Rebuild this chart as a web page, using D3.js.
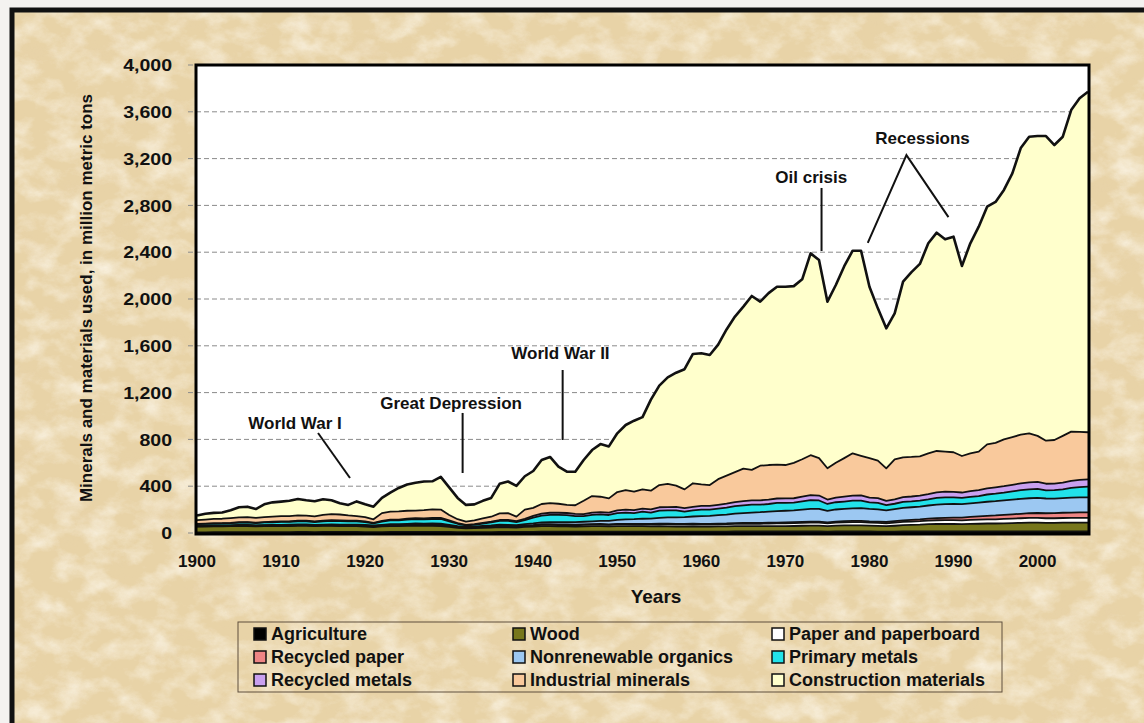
<!DOCTYPE html>
<html><head><meta charset="utf-8">
<script src="https://cdn.jsdelivr.net/npm/d3@7/dist/d3.min.js"></script>
<style>
body{margin:0;background:#fff;}
svg{display:block;font-family:"Liberation Sans",Arial,sans-serif;}
</style>
</head><body>
<svg id="c" width="1144" height="723"></svg>
<script>
// ---------------- DATA ----------------
const firstYear = 1900, lastYear = 2006;
const years = d3.range(firstYear, lastYear + 1);

const agriculture = [
 6,6,7,7,7,8,8,7,8,8, 8,8,9,9,8,9,9,9,9,9, 8,7,8,9,9,9,10,10,10,10,
 9,8,7,7,8,8,9,9,9,10, 10,11,11,11,11,11,11,11,12,11, 12,12,12,12,12,12,12,12,12,12,
 12,12,12,12,13,13,13,13,13,13, 13,13,13,13,13,12,13,13,13,13, 13,12,12,12,13,13,13,13,13,13,
 13,13,13,13,13,13,13,13,13,13, 13,13,13,13,13,13,13];
const wood = [
 48,49,50,50,51,52,52,50,51,52, 52,52,53,53,51,52,52,50,49,50, 47,44,48,50,51,52,52,51,51,50,
 44,36,32,34,37,39,42,40,38,42, 44,48,48,46,45,44,46,47,47,45, 47,47,46,46,45,46,45,43,43,44,
 43,43,44,45,46,46,46,45,46,46, 46,47,49,50,50,47,50,52,53,53, 50,49,46,50,54,56,58,62,64,64,
 64,62,65,66,68,68,70,72,74,76, 76,74,74,75,76,76,76];
const paper = [
 3,3,3,3,4,4,4,4,4,4, 4,5,5,5,5,5,5,6,6,6, 6,5,6,7,7,7,8,8,8,8,
 7,6,6,6,7,7,8,8,8,9, 10,11,11,11,11,11,12,13,13,13, 14,14,14,15,15,16,16,16,16,17,
 17,17,18,18,19,20,21,21,22,23, 23,24,25,26,26,23,25,26,27,27, 26,26,25,27,28,29,30,31,32,33,
 33,33,34,35,36,36,37,38,39,40, 40,39,39,40,40,40,40];
const recycledPaper = [
 1,1,1,1,1,1,1,1,1,1, 1,1,1,1,1,1,1,1,1,1, 2,2,2,2,2,2,3,3,3,3,
 2,2,2,2,2,3,3,3,3,3, 4,5,5,6,6,6,5,5,5,5, 5,5,5,5,5,6,6,6,6,6,
 6,6,6,6,7,7,7,7,7,7, 8,8,8,9,9,8,9,10,10,11, 11,11,11,12,13,14,15,17,18,20,
 22,24,26,28,30,33,35,37,38,40, 42,43,44,45,46,47,48];
const organics = [
 3,3,3,3,3,4,4,4,4,4, 5,5,5,5,5,5,6,6,6,6, 6,6,6,7,7,8,8,8,9,9,
 8,7,6,6,7,8,9,9,10,12, 14,16,18,19,20,21,22,24,26,30, 34,38,41,44,46,50,54,57,58,62,
 66,68,72,76,80,84,88,92,95,98, 100,102,105,108,108,100,104,106,108,108, 106,104,100,103,106,108,110,112,115,117,
 116,114,116,118,120,122,124,126,128,128, 130,126,124,125,127,128,128];
const primaryMetals = [
 15,16,17,17,18,20,21,19,22,23, 25,25,27,27,24,28,30,30,29,28, 24,18,27,33,32,36,38,37,38,40,
 30,20,12,15,20,25,32,35,25,34, 50,58,62,62,60,52,48,55,56,50, 57,58,52,60,52,62,60,60,48,52,
 55,54,56,60,64,66,68,64,65,70, 68,65,70,75,72,58,62,62,65,65, 56,56,44,46,52,50,50,52,58,58,
 56,54,55,56,62,64,66,70,74,76, 76,70,72,74,84,88,92];
const recycledMetals = [
 2,2,2,3,3,3,3,3,3,4, 4,4,5,5,5,6,6,6,6,6, 6,5,6,7,7,8,8,8,9,9,
 8,6,5,5,6,7,8,9,8,10, 14,16,18,18,18,18,18,20,20,20, 25,26,26,27,27,28,29,30,30,31,
 32,32,33,34,35,36,36,37,38,38, 38,38,40,42,42,38,40,42,44,44, 40,40,36,38,40,42,44,46,48,48,
 48,46,48,50,52,54,55,56,58,60, 60,56,56,58,60,62,62];
const industrialMinerals = [
 32,35,37,38,41,41,42,42,43,44, 45,45,45,43,43,49,53,50,44,39, 36,30,67,67,70,68,65,71,74,71,
 46,33,27,33,38,42,57,57,39,80, 69,83,82,77,69,74,113,141,131,122, 156,167,157,164,160,190,197,181,160,201,
 184,178,219,239,256,278,261,296,295,290, 285,303,320,342,320,267,297,329,361,339, 338,320,279,342,341,338,335,347,353,342,
 338,312,323,329,377,380,400,408,416,419, 393,368,373,400,420,411,402];
const construction = [
 40,50,52,53,67,87,90,75,109,122, 124,130,140,132,130,133,118,97,90,125, 110,108,130,163,200,225,238,244,240,280,
 236,182,143,137,150,161,252,270,262,285, 315,376,395,317,284,287,349,393,450,444, 502,556,607,617,778,850,911,965,1027,1105,
 1121,1111,1150,1250,1330,1385,1486,1402,1469,1520, 1524,1510,1538,1725,1693,1424,1520,1640,1732,1753, 1465,1302,1196,1247,1501,1580,1645,1796,1866,1815,
 1843,1624,1796,1923,2031,2060,2132,2254,2450,2535, 2563,2604,2521,2557,2749,2850,2911];

const seriesNames = ["Agriculture","Wood","Paper and paperboard","Recycled paper",
  "Nonrenewable organics","Primary metals","Recycled metals","Industrial minerals","Construction materials"];
const seriesValues = [agriculture, wood, paper, recycledPaper, organics, primaryMetals,
  recycledMetals, industrialMinerals, construction];
const seriesColors = ["#000000","#77771c","#ffffff","#ee8585","#9cc8f2","#22e2ea","#c9a0f0","#f9c99c","#ffffcc"];

const yTicks = [0,400,800,1200,1600,2000,2400,2800,3200,3600,4000];
const xTicks = [1900,1910,1920,1930,1940,1950,1960,1970,1980,1990,2000];

const annotations = [
  {text:"World War I", x:1906.1, y:940, lines:[[[1914.4,855],[1918.2,470]]]},
  {text:"Great Depression", x:1921.8, y:1111, lines:[[[1931.6,1026],[1931.6,513]]]},
  {text:"World War II", x:1937.4, y:1538, lines:[[[1943.5,1393],[1943.5,795]]]},
  {text:"Oil crisis", x:1968.8, y:3040, lines:[[[1974.3,2949],[1974.3,2410]]]},
  {text:"Recessions", x:1980.7, y:3376, lines:[[[1979.8,2480],[1984.4,3230],[1989.4,2700]]]}
];

// ---------------- LAYOUT ----------------
const svg = d3.select("#c");
const W = 1144, H = 723;
const plot = {l:196, r:1089, t:65, b:534};

const x = d3.scaleLinear().domain([firstYear, lastYear]).range([plot.l + 1, plot.r - 1]);
const y = d3.scaleLinear().domain([0, 4000]).range([533, 65]);

// background with parchment texture
const defs = svg.append("defs");
const f = defs.append("filter").attr("id","paper").attr("x",0).attr("y",0).attr("width","100%").attr("height","100%");
f.append("feTurbulence").attr("type","fractalNoise").attr("baseFrequency","0.035 0.05").attr("numOctaves",5).attr("seed",7).attr("result","n");
f.append("feColorMatrix").attr("in","n").attr("type","matrix")
  .attr("values","0 0 0 0 1  0 0 0 0 0.97  0 0 0 0 0.9  1.8 0 0 0 -0.72");
const f2 = defs.append("filter").attr("id","paper2").attr("x",0).attr("y",0).attr("width","100%").attr("height","100%");
f2.append("feTurbulence").attr("type","fractalNoise").attr("baseFrequency","0.02 0.03").attr("numOctaves",4).attr("seed",2).attr("result","n");
f2.append("feColorMatrix").attr("in","n").attr("type","matrix")
  .attr("values","0 0 0 0 0.8  0 0 0 0 0.64  0 0 0 0 0.42  1.6 0 0 0 -0.8");

svg.append("rect").attr("x",0).attr("y",0).attr("width",W).attr("height",H).attr("fill","#f4f2f0");
svg.append("rect").attr("x",12).attr("y",10).attr("width",W).attr("height",H).attr("fill","#e8d3a7");
svg.append("rect").attr("x",12).attr("y",10).attr("width",W).attr("height",H).attr("filter","url(#paper)").attr("opacity",0.75);
svg.append("rect").attr("x",12).attr("y",10).attr("width",W).attr("height",H).attr("filter","url(#paper2)").attr("opacity",0.3);
svg.append("rect").attr("x",12).attr("y",10).attr("width",W+20).attr("height",H+20)
  .attr("fill","none").attr("stroke","#111").attr("stroke-width",5);

// plot background
svg.append("rect").attr("x",plot.l).attr("y",plot.t).attr("width",plot.r-plot.l).attr("height",plot.b-plot.t).attr("fill","#fff");

// gridlines (dashed, extend a little left as tick marks)
svg.append("g").selectAll("line").data(yTicks.filter(d => d > 0 && d < 4000)).join("line")
  .attr("x1",188).attr("x2",plot.r).attr("y1",d=>y(d)).attr("y2",d=>y(d))
  .attr("stroke","#8a8a8a").attr("stroke-width",1).attr("stroke-dasharray","5,3");
svg.append("g").selectAll("line").data([0,4000]).join("line")
  .attr("x1",188).attr("x2",plot.l).attr("y1",d=>y(d)).attr("y2",d=>y(d))
  .attr("stroke","#8a8a8a").attr("stroke-width",1).attr("stroke-dasharray","5,3");

// stacked areas
const table = years.map((yr,i) => {
  const o = {year: yr};
  seriesNames.forEach((n,k) => o[n] = seriesValues[k][i]);
  return o;
});
const stack = d3.stack().keys(seriesNames)(table);
const area = d3.area().x(d => x(d.data.year)).y0(d => y(d[0])).y1(d => y(d[1]));
const topLine = d3.line().x(d => x(d.data.year)).y(d => y(d[1]));

svg.append("g").selectAll("path").data(stack).join("path")
  .attr("d", area).attr("fill", (d,i) => seriesColors[i]);
svg.append("g").selectAll("path").data(stack).join("path")
  .attr("d", topLine).attr("fill","none").attr("stroke","#111")
  .attr("stroke-width",(d,i)=> i === stack.length-1 ? 2.6 : 1.8).attr("stroke-linejoin","round");

// plot border
svg.append("rect").attr("x",plot.l).attr("y",plot.t).attr("width",plot.r-plot.l).attr("height",plot.b-plot.t)
  .attr("fill","none").attr("stroke","#000").attr("stroke-width",3);

// y-axis labels
svg.append("g").selectAll("text").data(yTicks).join("text")
  .attr("transform",d=>`translate(172,${y(d)}) scale(1.15,1)`).attr("dy","0.36em").attr("text-anchor","end")
  .attr("font-size",17).attr("font-weight","bold").attr("fill","#111")
  .text(d => d3.format(",")(d));

// x-axis labels
svg.append("g").selectAll("text").data(xTicks).join("text")
  .attr("x",d=>x(d)).attr("y",561).attr("dy","0.36em").attr("text-anchor","middle")
  .attr("font-size",17).attr("font-weight","bold").attr("fill","#111")
  .text(d => d);

svg.append("text").attr("x",656).attr("y",596).attr("dy","0.36em").attr("text-anchor","middle")
  .attr("font-size",19).attr("font-weight","bold").attr("fill","#111").text("Years");

svg.append("text").attr("transform","translate(92,298) rotate(-90)").attr("text-anchor","middle")
  .attr("font-size",17).attr("font-weight","bold").attr("fill","#111")
  .text("Minerals and materials used, in million metric tons");

// annotations
const ag = svg.append("g");
annotations.forEach(a => {
  ag.append("text").attr("x",x(a.x)).attr("y",y(a.y)).attr("dy","0.36em")
    .attr("font-size",17).attr("font-weight","bold").attr("fill","#111").text(a.text);
  a.lines.forEach(pts => {
    ag.append("path").attr("d", d3.line().x(p=>x(p[0])).y(p=>y(p[1]))(pts))
      .attr("fill","none").attr("stroke","#111").attr("stroke-width",2);
  });
});

// legend
const lg = svg.append("g");
lg.append("rect").attr("x",238).attr("y",622).attr("width",764).attr("height",70)
  .attr("fill","none").attr("stroke","#5e4e3c").attr("stroke-width",1);
const colX = [254, 513, 772], rowY = [634, 657, 680];
seriesNames.forEach((n,i) => {
  const cx = colX[i % 3], cy = rowY[Math.floor(i / 3)];
  lg.append("rect").attr("x",cx).attr("y",cy-6).attr("width",12).attr("height",12)
    .attr("fill",seriesColors[i]).attr("stroke","#111").attr("stroke-width",1.5);
  lg.append("text").attr("x",cx+17).attr("y",cy).attr("dy","0.36em")
    .attr("font-size",18).attr("font-weight","bold").attr("fill","#111").text(n);
});
</script>
</body></html>
